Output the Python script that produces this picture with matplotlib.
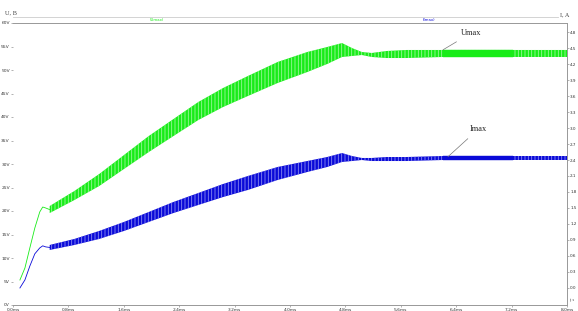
import matplotlib
matplotlib.use("Agg")
import matplotlib.pyplot as plt

# ---- data ----
# initial thin transient
t_init = [0.100, 0.172, 0.243, 0.315, 0.386, 0.429, 0.472, 0.530]
u_init = [5.32, 7.87, 12.13, 16.38, 19.79, 20.85, 20.64, 20.30]
i_init = [0.00, 0.15, 0.41, 0.64, 0.75, 0.79, 0.77, 0.76]

# ripple band envelopes
t_band = [0.530, 0.887, 1.245, 1.603, 1.961, 2.318, 2.676, 3.034, 3.392, 3.821,
          4.250, 4.537, 4.751, 4.894, 5.037, 5.181, 5.395, 5.681, 6.211, 6.683,
          7.213, 7.614, 8.0]
u_hi = [21.06, 24.26, 27.87, 31.91, 35.96, 39.57, 43.19, 46.17, 48.72, 51.70,
        53.83, 54.89, 55.74, 54.68, 53.83, 53.62, 54.04, 54.26, 54.26, 54.26,
        54.26, 54.26, 54.26]
u_lo = [19.57, 22.34, 25.32, 28.94, 32.55, 35.96, 39.36, 42.13, 44.47, 47.23,
        49.57, 51.28, 52.77, 52.98, 53.19, 52.77, 52.55, 52.55, 52.77, 52.77,
        52.77, 52.77, 52.77]
i_hi = [0.806, 0.919, 1.069, 1.238, 1.425, 1.613, 1.781, 1.950, 2.100, 2.269,
        2.381, 2.456, 2.531, 2.475, 2.438, 2.438, 2.456, 2.456, 2.475, 2.475,
        2.475, 2.475, 2.475]
i_lo = [0.713, 0.806, 0.919, 1.069, 1.238, 1.406, 1.556, 1.706, 1.838, 2.025,
        2.175, 2.269, 2.363, 2.381, 2.400, 2.381, 2.381, 2.381, 2.400, 2.400,
        2.400, 2.400, 2.400]
solid_from, solid_to = 6.211, 7.213

x_ticks = [0.0, 0.8, 1.6, 2.4, 3.2, 4.0, 4.8, 5.6, 6.4, 7.2, 8.0]
x_labels = ["0.0ms", "0.8ms", "1.6ms", "2.4ms", "3.2ms", "4.0ms", "4.8ms",
            "5.6ms", "6.4ms", "7.2ms", "8.0ms"]
u_ticks = [0, 5, 10, 15, 20, 25, 30, 35, 40, 45, 50, 55, 60]
u_labels = ["%dV" % v for v in u_ticks]
i_ticks = [0.0, 0.3, 0.6, 0.9, 1.2, 1.5, 1.8, 2.1, 2.4, 2.7, 3.0, 3.3, 3.6,
           3.9, 4.2, 4.5, 4.8]
i_labels = ["%.1f" % v for v in i_ticks]

GREEN = "#18ec18"
LGREEN = "#9cf79c"
BLUE = "#0a0ad8"
LBLUE = "#8c8cf0"

plt.rcParams["hatch.linewidth"] = 0.6

W, H = 578, 311
fig = plt.figure(figsize=(W / 100, H / 100), dpi=100)
L, R, T, B = 13, 567, 23, 305
ax = fig.add_axes([L / W, 1 - B / H, (R - L) / W, (B - T) / H])
ax2 = ax.twinx()

ax.set_xlim(0, 8.0)
ax.set_ylim(0, 60)
ax2.set_ylim(-0.32, 4.97)

# voltage
ax.plot(t_init, u_init, color=GREEN, lw=0.6)
ax.fill_between(t_band, u_lo, u_hi, facecolor=GREEN, edgecolor=LGREEN,
                hatch="|||||", linewidth=0)
ax.fill_between(t_band, u_lo, u_hi,
                where=[solid_from <= t <= solid_to for t in t_band],
                facecolor=GREEN, edgecolor=GREEN, linewidth=0.3)
# current
ax2.plot(t_init, i_init, color=BLUE, lw=0.6)
ax2.fill_between(t_band, i_lo, i_hi, facecolor=BLUE, edgecolor=LBLUE,
                 hatch="|||||", linewidth=0)
ax2.fill_between(t_band, i_lo, i_hi,
                 where=[solid_from <= t <= solid_to for t in t_band],
                 facecolor=BLUE, edgecolor=BLUE, linewidth=0.3)

# ticks
ax.set_xticks(x_ticks)
ax.set_xticklabels(x_labels, fontsize=3.2, color="#333333")
ax.set_yticks(u_ticks)
ax.set_yticklabels(u_labels, fontsize=3.2, color="#333333")
ax2.set_yticks(i_ticks)
ax2.set_yticklabels(i_labels, fontsize=3.0, color="#333333")
for a in (ax, ax2):
    a.tick_params(length=1.5, width=0.4, pad=0.8, color="#777777")
ax.tick_params(axis="y", left=True, right=False)

for a in (ax, ax2):
    a.spines["left"].set_visible(False)
    for s in ("top", "bottom", "right"):
        a.spines[s].set_color("#999999")
        a.spines[s].set_linewidth(0.6)

# header strip
fig.add_artist(plt.Line2D([L / W, 558 / W], [1 - 17 / H, 1 - 17 / H],
                          color="#cccccc", lw=0.6))
fig.text(157 / W, 1 - 20 / H, "(Umax)", color=GREEN, fontsize=2.8,
         ha="center", va="center")
fig.text(429 / W, 1 - 20 / H, "(Imax)", color=BLUE, fontsize=2.8,
         ha="center", va="center")
fig.text(5 / W, 1 - 13 / H, "U, B", fontsize=4.5, color="#444444",
         family="Liberation Serif", ha="left", va="center")
fig.text(560 / W, 1 - 15 / H, "I, A", fontsize=4.5, color="#444444",
         family="Liberation Serif", ha="left", va="center")
fig.text(569 / W, 1 - 300 / H, "t, s", fontsize=3.2, color="#444444",
         family="Liberation Serif", ha="left", va="center")

# annotations
ax.annotate("Umax", xy=(6.21, 54.3), xytext=(6.62, 57.9),
            fontsize=6, family="Liberation Serif", color="#222222",
            ha="center", va="center",
            arrowprops=dict(arrowstyle="-", color="#777777", lw=0.5,
                            shrinkA=3, shrinkB=0))
ax2.annotate("Imax", xy=(6.28, 2.46), xytext=(6.72, 2.98),
             fontsize=6, family="Liberation Serif", color="#222222",
             ha="center", va="center",
             arrowprops=dict(arrowstyle="-", color="#777777", lw=0.5,
                             shrinkA=3, shrinkB=0))

fig.savefig("out.png", dpi=100)
